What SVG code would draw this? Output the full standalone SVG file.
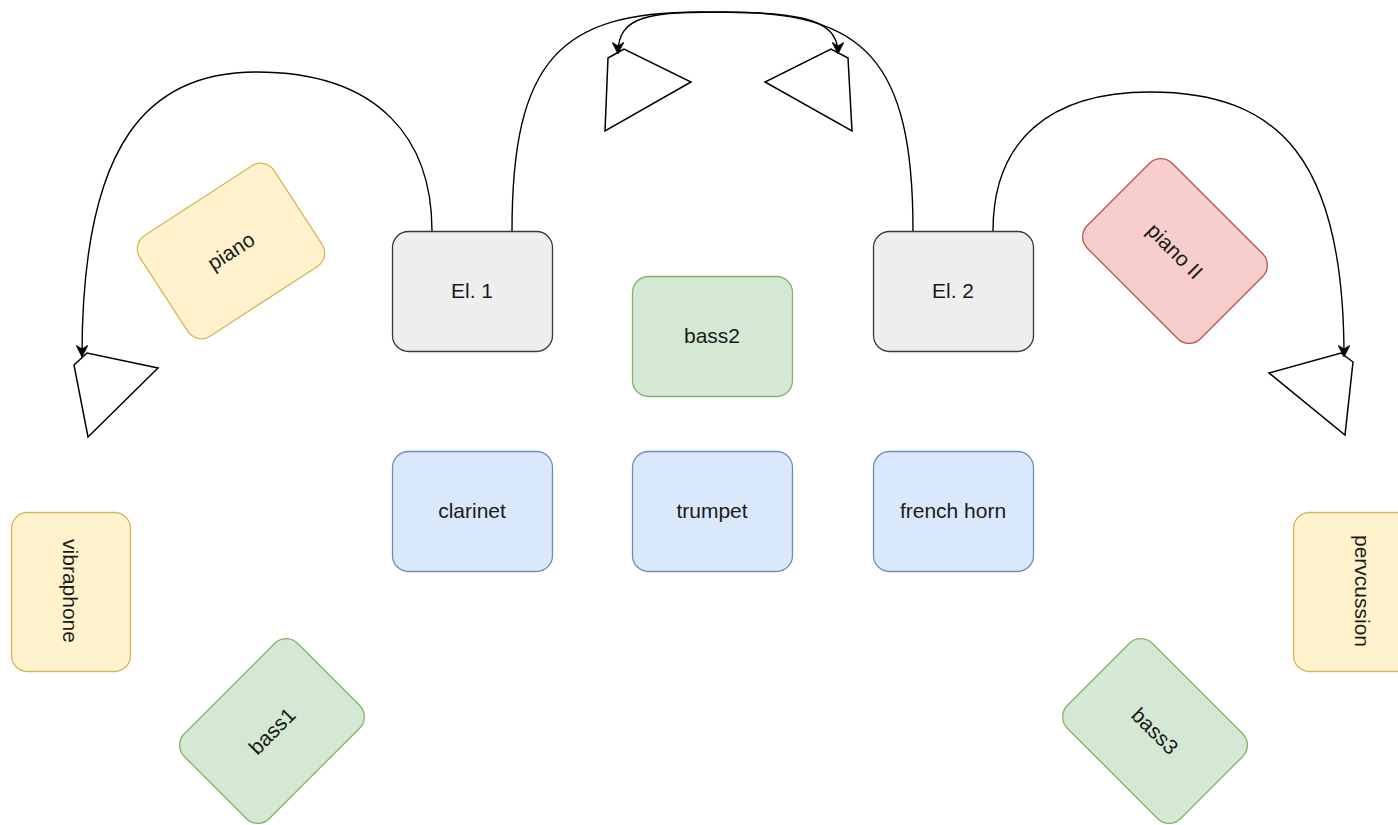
<svg xmlns="http://www.w3.org/2000/svg" width="1398" height="825" viewBox="0 0 1398 825">
<defs>
<style>
text{font-family:"Liberation Sans",Arial,Helvetica,sans-serif;font-size:21px;fill:#1a1a1a;text-anchor:middle}
.gray{fill:#eeeeee;stroke:#36393d;stroke-width:1.3}
.green{fill:#d5e8d4;stroke:#82b366;stroke-width:1.3}
.blue{fill:#dae8fc;stroke:#6c8ebf;stroke-width:1.3}
.yellow{fill:#fff2cc;stroke:#d6b656;stroke-width:1.3}
.red{fill:#f8cecc;stroke:#b85450;stroke-width:1.3}
.spk{fill:#ffffff;stroke:#000000;stroke-width:1.5;stroke-linejoin:miter}
.edge{fill:none;stroke:#000000;stroke-width:1.4}
</style>
<marker id="arr" viewBox="0 0 10 10" refX="9" refY="5" markerWidth="12" markerHeight="12" markerUnits="userSpaceOnUse" orient="auto">
<path d="M0,0 L10,5 L0,10 L3,5 z" fill="#000000" stroke="#000000" stroke-width="0.5"/>
</marker>
</defs>
<rect width="1398" height="825" fill="#ffffff"/>

<g id="speakers">
<polygon class="spk" points="74,365 87,353 158,368 88,437"/>
<polygon class="spk" points="1269,373 1341,353 1353,362 1345,435"/>
<polygon class="spk" points="608,58 624,49 691,82 605,131"/>
<polygon class="spk" points="848,58 831,49 765,82 852,131"/>
</g>

<g id="connectors">
<path class="edge" marker-end="url(#arr)" d="M432,231 C432,140 380,72 256,72 C150,72 82,140 82,356"/>
<path class="edge" marker-end="url(#arr)" d="M512,231 C512,60 560,12 700,12 C790,12 838,15 838,53"/>
<path class="edge" marker-end="url(#arr)" d="M913,231 C913,60 865,12 725,12 C650,12 618,15 618,53"/>
<path class="edge" marker-end="url(#arr)" d="M993,231 C993,140 1050,92 1150,92 C1280,92 1344,160 1344,356"/>
</g>

<g id="el1"><rect class="gray" x="392.5" y="231.5" width="160" height="120" rx="16"/><text x="472" y="291" dy="0.35em">El. 1</text></g>
<g id="el2"><rect class="gray" x="873.5" y="231.5" width="160" height="120" rx="16"/><text x="953" y="291" dy="0.35em">El. 2</text></g>
<g id="bass2"><rect class="green" x="632.5" y="276.5" width="160" height="120" rx="16"/><text x="712" y="336" dy="0.35em">bass2</text></g>
<g id="clarinet"><rect class="blue" x="392.5" y="451.5" width="160" height="120" rx="16"/><text x="472" y="511" dy="0.35em">clarinet</text></g>
<g id="trumpet"><rect class="blue" x="632.5" y="451.5" width="160" height="120" rx="16"/><text x="712" y="511" dy="0.35em">trumpet</text></g>
<g id="frenchhorn"><rect class="blue" x="873.5" y="451.5" width="160" height="120" rx="16"/><text x="953" y="511" dy="0.35em">french horn</text></g>
<g id="vibraphone"><rect class="yellow" x="11.5" y="512.5" width="119" height="159" rx="16"/><text transform="translate(70,591) rotate(90)" dy="0.35em">vibraphone</text></g>
<g id="pervcussion"><rect class="yellow" x="1293.5" y="512.5" width="140" height="159" rx="16"/><text transform="translate(1362,591) rotate(90)" dy="0.35em">pervcussion</text></g>
<g id="piano" transform="translate(231,251) rotate(-33)"><rect class="yellow" x="-80" y="-60" width="160" height="120" rx="16"/><text x="0" y="0" dy="0.35em">piano</text></g>
<g id="pianoII" transform="translate(1175,251) rotate(45)"><rect class="red" x="-80" y="-60" width="160" height="120" rx="16"/><text x="0" y="0" dy="0.35em">piano II</text></g>
<g id="bass1" transform="translate(272,731) rotate(-45)"><rect class="green" x="-80" y="-60" width="160" height="120" rx="16"/><text x="0" y="0" dy="0.35em">bass1</text></g>
<g id="bass3" transform="translate(1155,731) rotate(45)"><rect class="green" x="-80" y="-60" width="160" height="120" rx="16"/><text x="0" y="0" dy="0.35em">bass3</text></g>
</svg>
